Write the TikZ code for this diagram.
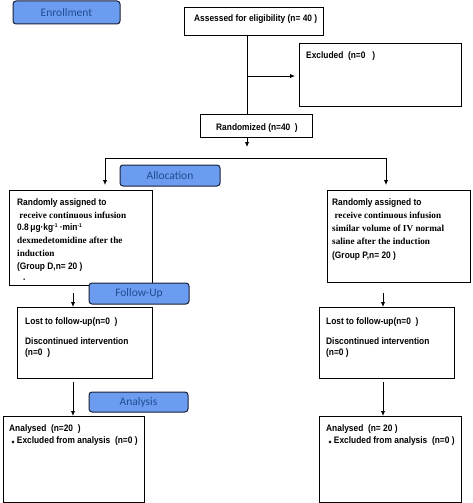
\documentclass[tikz,border=0pt]{standalone}
\usepackage{fontspec}
\setmainfont{Liberation Sans}
\newfontfamily\sansf{Liberation Sans Bold}[FakeStretch=0.89]
\newfontfamily\seriff{Liberation Serif Bold}
\newfontfamily\headf{Carlito}
\newfontfamily\symf{DejaVu Sans}
\usetikzlibrary{arrows.meta}
\definecolor{hfill}{RGB}{108,156,240}
\definecolor{htext}{RGB}{32,76,145}
\definecolor{hdraw}{RGB}{24,32,56}
\tikzset{
  box/.style={draw=black, line width=0.8pt, fill=white, anchor=north west, inner sep=0pt, outer sep=0pt},
  hbox/.style={draw=hdraw, line width=1pt, fill=hfill, rounded corners=3pt, anchor=north west, inner sep=0pt, outer sep=0pt},
  htxt/.style={font=\headf\fontsize{11.5}{12}\selectfont, text=htext, inner sep=0pt},
  txt/.style={anchor=base west, inner sep=0pt, font=\sansf\fontsize{9.4}{10}\selectfont},
  stxt/.style={anchor=base west, inner sep=0pt, font=\seriff\fontsize{9.2}{10}\selectfont},
  arr/.style={line width=0.9pt, -{Latex[length=5pt,width=4.5pt]}},
  ln/.style={line width=0.9pt}
}
\newcommand{\supm}[1]{\raisebox{3pt}{\fontsize{5.5}{6}\selectfont #1}}
\begin{document}
\begin{tikzpicture}[x=1pt,y=-1pt]
\useasboundingbox (0,0) rectangle (472,503);
% columns
\coordinate (cM) at (247,0);
\coordinate (cL) at (73,0);
\coordinate (cR) at (383,0);
\coordinate (aL) at (105,0);
\coordinate (aR) at (386,0);
% boxes
\node[box, minimum width=139pt, minimum height=28pt] (assess) at (184,7) {};
\node[box, minimum width=162pt, minimum height=63pt] (excl) at (299,43) {};
\node[box, minimum width=112pt, minimum height=23pt] (rand) at (200,114) {};
\node[box, minimum width=143pt, minimum height=95pt] (dgrp) at (9,190) {};
\node[box, minimum width=143pt, minimum height=92pt] (pgrp) at (327,190) {};
\node[box, minimum width=135pt, minimum height=71pt] (lostL) at (17,307) {};
\node[box, minimum width=135pt, minimum height=71pt] (lostR) at (319,307) {};
\node[box, minimum width=141pt, minimum height=86pt] (anaL) at (3,416) {};
\node[box, minimum width=142pt, minimum height=86pt] (anaR) at (319,416) {};
% header boxes
\node[hbox, minimum width=107pt, minimum height=23pt] (henr) at (13,1) {};
\node[htxt] at (henr.center) {Enrollment};
\node[hbox, minimum width=100pt, minimum height=21pt] (halloc) at (120,165) {};
\node[htxt] at (halloc.center) {Allocation};
\node[hbox, minimum width=100pt, minimum height=21pt] (hfol) at (89,283) {};
\node[htxt] at (hfol.center) {Follow-Up};
\node[hbox, minimum width=99pt, minimum height=20pt] (hana) at (89,392) {};
\node[htxt] at (hana.center) {Analysis};
% texts
\node[txt] at ([xshift=10pt,yshift=-14.5pt]assess.north west) {Assessed for eligibility (n= 40 )};
\node[txt] at ([xshift=7pt,yshift=-15.5pt]excl.north west) {Excluded\ \ (n=0\ \ \ )};
\node[txt] at ([xshift=16pt,yshift=-16pt]rand.north west) {Randomized (n=40\ \ )};
\node[txt] at ([xshift=8pt,yshift=-15pt]dgrp.north west) {Randomly assigned to};
\node[stxt] at ([xshift=8pt,yshift=-28pt]dgrp.north west) {\ receive continuous infusion};
\node[txt] at ([xshift=8pt,yshift=-40.5pt]dgrp.north west) {0.8\,μg·kg\supm{-1} ·min\supm{-1}};
\node[stxt] at ([xshift=8pt,yshift=-53.5pt]dgrp.north west) {dexmedetomidine after the};
\node[stxt] at ([xshift=8pt,yshift=-66pt]dgrp.north west) {induction};
\node[txt] at ([xshift=8pt,yshift=-79pt]dgrp.north west) {(Group D,n= 20 )};
\node[txt] at ([xshift=14pt,yshift=-90pt]dgrp.north west) {.};
\node[txt] at ([xshift=5pt,yshift=-15pt]pgrp.north west) {Randomly assigned to};
\node[stxt] at ([xshift=5pt,yshift=-28pt]pgrp.north west) {\ receive continuous infusion};
\node[stxt] at ([xshift=5pt,yshift=-41pt]pgrp.north west) {similar volume of IV normal};
\node[stxt] at ([xshift=5pt,yshift=-54.5pt]pgrp.north west) {saline after the induction};
\node[txt] at ([xshift=5pt,yshift=-68pt]pgrp.north west) {(Group P,n= 20 )};
\node[txt] at ([xshift=8pt,yshift=-17pt]lostL.north west) {Lost to follow-up(n=0\ \ )};
\node[txt] at ([xshift=8pt,yshift=-37pt]lostL.north west) {Discontinued intervention};
\node[txt] at ([xshift=8pt,yshift=-48pt]lostL.north west) {(n=0\ \ )};
\node[txt] at ([xshift=7pt,yshift=-17pt]lostR.north west) {Lost to follow-up(n=0\ \ )};
\node[txt] at ([xshift=7pt,yshift=-37pt]lostR.north west) {Discontinued intervention};
\node[txt] at ([xshift=7pt,yshift=-48pt]lostR.north west) {(n=0 )};
\node[txt] at ([xshift=6pt,yshift=-15pt]anaL.north west) {Analysed\ \ (n=20\ \ )};
\node[txt] at ([xshift=6pt,yshift=-27pt]anaL.north west) {\ {\symf\fontsize{4}{5}\selectfont ◆}\ Excluded from analysis\ \ (n=0 )};
\node[txt] at ([xshift=7pt,yshift=-15pt]anaR.north west) {Analysed\ \ (n= 20 )};
\node[txt] at ([xshift=7pt,yshift=-27pt]anaR.north west) {\ {\symf\fontsize{4}{5}\selectfont ◆}\ Excluded from analysis\ \ (n=0 )};
% connectors
\coordinate (split) at (247,76);
\coordinate (brk) at (247,147);
\coordinate (hL) at (105,158);
\coordinate (hR) at (386,158);
\draw[ln] (assess.south -| cM) -- (rand.north -| cM);
\draw[arr, shorten >=4pt] (split) -- (excl.west |- split);
\draw[arr] (rand.south -| cM) -- (brk);
\draw[ln] (hL) -- (hR);
\draw[arr, shorten >=5pt] (hL) -- (dgrp.north -| aL);
\draw[arr, shorten >=5pt] (hR) -- (pgrp.north -| aR);
\draw[arr, shorten <=8pt] (dgrp.south -| cL) -- (lostL.north -| cL);
\draw[arr, shorten <=11pt] (pgrp.south -| cR) -- (lostR.north -| cR);
\draw[arr, shorten <=4pt] (lostL.south -| cL) -- (anaL.north -| cL);
\draw[arr, shorten <=4pt] (lostR.south -| cR) -- (anaR.north -| cR);
\end{tikzpicture}
\end{document}
